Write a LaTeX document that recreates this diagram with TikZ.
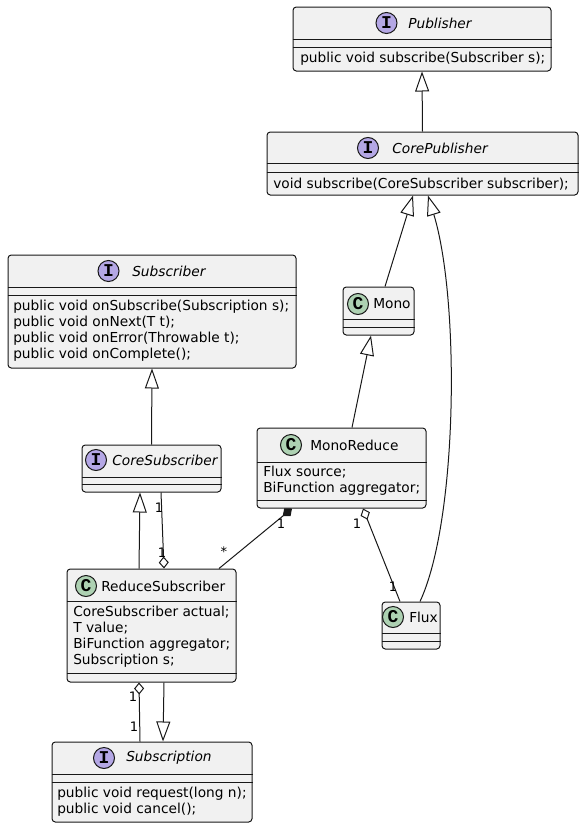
\documentclass[tikz,border=0pt]{standalone}
\usepackage{fontspec}
\setmainfont{DejaVu Sans}[ItalicFont={DejaVu Sans Oblique}]
\newfontfamily\spotfont{Liberation Mono}
\usetikzlibrary{arrows.meta,fit}

\definecolor{umlfill}{HTML}{F1F1F1}
\definecolor{umlline}{HTML}{181818}
\definecolor{ifacespot}{HTML}{B4A7E5}
\definecolor{classspot}{HTML}{ADD1B2}

\tikzset{
  umlbox/.style={draw=umlline, fill=umlfill, line width=0.75pt, rounded corners=2.5pt, inner sep=0pt},
  spot/.style={circle, draw=umlline, line width=0.75pt, minimum size=15.75pt, inner sep=0pt,
    font=\spotfont\bfseries\fontsize{13.5}{13.5}\selectfont},
  iface/.style={spot, fill=ifacespot},
  klass/.style={spot, fill=classspot},
  title/.style={anchor=west, inner sep=0pt, font=\fontsize{10.3}{12}\selectfont},
  ititle/.style={title, font=\fontsize{10.3}{12}\selectfont\itshape},
  members/.style={anchor=west, inner sep=0pt, align=left, font=\fontsize{10.3}{12}\selectfont},
  mult/.style={inner sep=0pt, font=\fontsize{9.8}{10}\selectfont},
  edge/.style={draw=umlline, line width=0.75pt},
  extends/.style={edge, -{Triangle[open, length=15pt, width=10.5pt]}},
  aggr/.style={edge, {Diamond[open, length=9pt, width=7.5pt]}-},
  compo/.style={edge, {Diamond[length=9pt, width=7.5pt]}-},
}

\begin{document}
\begin{tikzpicture}[x=0.75pt, y=-0.75pt]
    \useasboundingbox (0,0) rectangle (584,828);

    \node[umlbox, fit={(293,7) (551,71)}]    (pub)  {};
    \node[umlbox, fit={(267,132) (578,195)}] (cpub) {};
    \node[umlbox, fit={(8,255) (296,368)}]   (sub)  {};
    \node[umlbox, fit={(82,445) (221,492)}]  (csub) {};
    \node[umlbox, fit={(343,287) (414,335)}] (mono) {};
    \node[umlbox, fit={(257,428) (426,508)}] (mred) {};
    \node[umlbox, fit={(67,569) (236,682)}]  (rsub) {};
    \node[umlbox, fit={(382,602) (440,649)}] (flux) {};
    \node[umlbox, fit={(52,742) (252,822)}]  (subn) {};

    \foreach \b/\y in {pub/39, pub/47, cpub/163, cpub/172, sub/287, sub/295, csub/477, csub/484,
                       mono/319, mono/327, mred/462, mred/500, rsub/601, rsub/673,
                       flux/633, flux/641, subn/774, subn/782}
        \draw[edge] (\b.west |- 0,\y) -- (\b.east |- 0,\y);

    \node[iface]  (pubI)   at (386.5,23) {I};
    \node[ititle] (pubT)   at (408,23)   {Publisher};
    \node[members] (pubM)  at (300,59)   {public void subscribe(Subscriber s);};

    \node[iface]  (cpubI)  at (368,148)  {I};
    \node[ititle] (cpubT)  at (392,148)  {CorePublisher};
    \node[members] (cpubM) at (273,184)  {void subscribe(CoreSubscriber subscriber);};

    \node[iface]  (subI)   at (108.5,271) {I};
    \node[ititle] (subT)   at (132,271)  {Subscriber};
    \node[members] (subM)  at (13,331)   {public void onSubscribe(Subscription s);\\public void onNext(T t);\\public void onError(Throwable t);\\public void onComplete();};

    \node[iface]  (csubI)  at (96,460)   {I};
    \node[ititle] (csubT)  at (112,460)  {CoreSubscriber};

    \node[klass]  (monoC)  at (358,304)  {C};
    \node[title]  (monoT)  at (373,304)  {Mono};

    \node[klass]  (mredC)  at (291,445)  {C};
    \node[title]  (mredT)  at (310,445)  {MonoReduce};
    \node[members] (mredM) at (263,481)  {Flux source;\\BiFunction aggregator;};

    \node[klass]  (rsubC)  at (86,586)   {C};
    \node[title]  (rsubT)  at (101,586)  {ReduceSubscriber};
    \node[members] (rsubM) at (73,637)   {CoreSubscriber actual;\\T value;\\BiFunction aggregator;\\Subscription s;};

    \node[klass]  (fluxC)  at (393,617)  {C};
    \node[title]  (fluxT)  at (409,617)  {Flux};

    \node[iface]  (subnI)  at (104,758)  {I};
    \node[ititle] (subnT)  at (126,758)  {Subscription};
    \node[members] (subnM) at (57,802)   {public void request(long n);\\public void cancel();};

    \draw[extends] (cpub.north) -- (pub.south);
    \draw[extends] (385,0 |- mono.north) -- (413,0 |- cpub.south);
    \draw[extends] (420,0 |- flux.north) .. controls (458,520) and (460,300) .. (428,0 |- cpub.south);
    \draw[extends] (352,0 |- mred.north) -- (371,0 |- mono.south);
    \draw[extends] (csub.north) -- (sub.south);
    \draw[extends] (139,0 |- rsub.north) -- (140,0 |- csub.south);
    \draw[aggr]    (164,0 |- rsub.north) -- (161,0 |- csub.south);
    \draw[compo]   (292,0 |- mred.south) -- (219,0 |- rsub.north);
    \draw[aggr]    (363,0 |- mred.south) -- (400,0 |- flux.north);
    \draw[aggr]    (139,0 |- rsub.south) -- (140,0 |- subn.north);
    \draw[extends] (164,0 |- rsub.south) -- (163,0 |- subn.north);

    \node[mult] (mA) at (159,508) {1};
    \node[mult] (mB) at (162,553) {1};
    \node[mult] (mC) at (281,524) {1};
    \node[mult] (mD) at (224,552) {*};
    \node[mult] (mE) at (357,524) {1};
    \node[mult] (mF) at (393,587) {1};
    \node[mult] (mG) at (133,697) {1};
    \node[mult] (mH) at (134,727) {1};
\end{tikzpicture}
\end{document}
